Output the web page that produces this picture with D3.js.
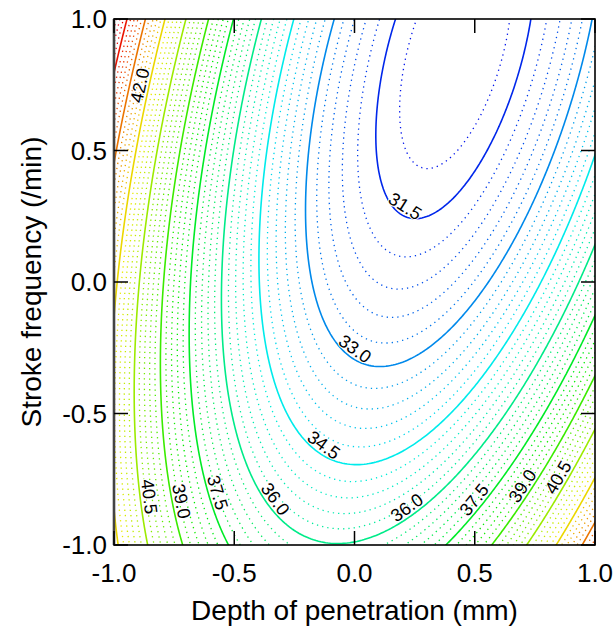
<!DOCTYPE html>
<html>
<head>
<meta charset="utf-8">
<script src="https://cdn.jsdelivr.net/npm/d3@7"></script>
<style>
  body { margin: 0; background: #fff; }
  text { font-family: "Liberation Sans", Arial, sans-serif; }
</style>
</head>
<body>
<svg id="chart"></svg>
<script>
const width = 616;
const height = 634;

// quadratic response surface: b0, bx, by, bxx, byy, bxy
const coefficients = [32.29, -2.736, -1.833, 7.2, 1.944, -3.773];
const labeledLevels = [31.5, 33.0, 34.5, 36.0, 37.5, 39.0, 40.5, 42.0, 43.5, 45.0];
const dottedLevels = [31.2, 31.8, 32.1, 32.4, 32.7, 33.3, 33.6, 33.9, 34.2, 34.8,
    35.1, 35.4, 35.7, 36.3, 36.6, 36.9, 37.2, 37.8, 38.1, 38.4, 38.7, 39.3, 39.6,
    39.9, 40.2, 40.8, 41.1, 41.4, 41.7, 42.3, 42.6, 42.9, 43.2, 43.8, 44.1, 44.4,
    44.7, 45.3, 45.6, 45.9];
const xTicks = [-1.0, -0.5, 0.0, 0.5, 1.0];
const yTicks = [-1.0, -0.5, 0.0, 0.5, 1.0];
const xTitle = 'Depth of penetration (mm)';
const yTitle = 'Stroke frequency (/min)';

// where the contour labels sit (level, approx data point on the line)
const labelSpots = [
    [42.0, -0.86, 0.74],
    [31.5, 0.20, 0.27],
    [33.0, -0.01, -0.27],
    [34.5, -0.15, -0.64],
    [36.0, -0.34, -0.83],
    [36.0, 0.24, -0.89],
    [37.5, -0.58, -0.80],
    [39.0, -0.725, -0.83],
    [40.5, -0.867, -0.82],
    [37.5, 0.52, -0.85],
    [39.0, 0.717, -0.79],
    [40.5, 0.863, -0.745]
];

const plot = { left: 114, right: 595, top: 19, bottom: 545 };

const svg = d3.select('#chart').attr('width', width).attr('height', height);

const x = d3.scaleLinear().domain([-1, 1]).range([plot.left, plot.right]);
const y = d3.scaleLinear().domain([-1, 1]).range([plot.bottom, plot.top]);

const hue = d3.scaleLinear().domain([31.5, 45.0]).range([230, 5]);
const levelColor = v => d3.hsl(Math.max(-8, hue(v)), 1, 0.46).formatHex();

function surface(a, b) {
    const [b0, b1, b2, b11, b22, b12] = coefficients;
    return b0 + b1 * a + b2 * b + b11 * a * a + b22 * b * b + b12 * a * b;
}

// sample the surface on a grid a bit larger than the plot, then clip
const step = 0.01, lo = -1.05, n = 211;
const values = new Float64Array(n * n);
for (let j = 0; j < n; j++) {
    for (let i = 0; i < n; i++) {
        values[j * n + i] = surface(lo + i * step, -lo - j * step);
    }
}
const gx = g => x(lo + (g - 0.5) * step);
const gy = g => y(-lo - (g - 0.5) * step);

const path = d3.geoPath(d3.geoTransform({
    point: function (px, py) { this.stream.point(gx(px), gy(py)); }
}));

const allLevels = labeledLevels.concat(dottedLevels).sort((a, b) => a - b);
const contours = d3.contours().size([n, n]).thresholds(allLevels)(values);

svg.append('defs').append('clipPath').attr('id', 'plotClip')
    .append('rect')
    .attr('x', plot.left).attr('y', plot.top)
    .attr('width', plot.right - plot.left).attr('height', plot.bottom - plot.top);

const lines = svg.append('g').attr('clip-path', 'url(#plotClip)');

lines.selectAll('path')
    .data(contours)
    .enter().append('path')
    .attr('d', path)
    .attr('fill', 'none')
    .attr('stroke', d => levelColor(d.value))
    .attr('stroke-width', d => labeledLevels.includes(d.value) ? 1.6 : 1.3)
    .attr('stroke-dasharray', d => labeledLevels.includes(d.value) ? null : '1.3,4')
    .attr('stroke-linecap', 'butt');

const fmt = d => d.toFixed(1);

// contour labels: baseline on the line, turned along it
const labels = svg.append('g');
labelSpots.forEach(([level, lx, ly]) => {
    const c = contours.find(d => Math.abs(d.value - level) < 1e-6);
    if (!c) return;
    const tx = x(lx), ty = y(ly);
    let best = null, bestD = Infinity;
    c.coordinates.forEach(poly => poly.forEach(ring => {
        ring.forEach((p, k) => {
            const px = gx(p[0]), py = gy(p[1]);
            const d = (px - tx) ** 2 + (py - ty) ** 2;
            if (d < bestD) { bestD = d; best = { ring, k, px, py }; }
        });
    }));
    if (!best) return;
    const r = best.ring, m = r.length;
    const p0 = r[(best.k - 4 + m) % m], p1 = r[(best.k + 4) % m];
    let ang = Math.atan2(gy(p1[1]) - gy(p0[1]), gx(p1[0]) - gx(p0[0])) * 180 / Math.PI;
    if (ang > 90) ang -= 180;
    if (ang <= -90) ang += 180;
    labels.append('text')
        .attr('transform', `translate(${best.px},${best.py}) rotate(${ang})`)
        .attr('y', -3)
        .attr('text-anchor', 'middle')
        .attr('font-size', 18)
        .attr('fill', '#000')
        .attr('stroke', '#fff')
        .attr('stroke-width', 2)
        .attr('paint-order', 'stroke')
        .text(fmt(level));
});

// frame
const frame = svg.append('g');
frame.append('rect')
    .attr('x', plot.left).attr('y', plot.top)
    .attr('width', plot.right - plot.left).attr('height', plot.bottom - plot.top)
    .attr('fill', 'none').attr('stroke', '#000').attr('stroke-width', 1.6);
frame.append('line')
    .attr('x1', plot.left).attr('x2', plot.left)
    .attr('y1', plot.top).attr('y2', plot.bottom)
    .attr('stroke', '#444').attr('stroke-width', 2.6);

// inward ticks on all four sides
const tickLen = 14;
xTicks.forEach(t => {
    frame.append('line').attr('x1', x(t)).attr('x2', x(t))
        .attr('y1', plot.bottom).attr('y2', plot.bottom - tickLen)
        .attr('stroke', '#000').attr('stroke-width', 1.5);
    frame.append('line').attr('x1', x(t)).attr('x2', x(t))
        .attr('y1', plot.top).attr('y2', plot.top + tickLen)
        .attr('stroke', '#000').attr('stroke-width', 1.5);
});
yTicks.forEach(t => {
    frame.append('line').attr('x1', plot.left).attr('x2', plot.left + tickLen)
        .attr('y1', y(t)).attr('y2', y(t))
        .attr('stroke', '#000').attr('stroke-width', 1.5);
    frame.append('line').attr('x1', plot.right).attr('x2', plot.right - tickLen)
        .attr('y1', y(t)).attr('y2', y(t))
        .attr('stroke', '#000').attr('stroke-width', 1.5);
});

svg.append('g').selectAll('text').data(xTicks).enter().append('text')
    .attr('x', d => x(d)).attr('y', 582)
    .attr('text-anchor', 'middle').attr('font-size', 26).attr('fill', '#000')
    .text(d => fmt(d));
svg.append('g').selectAll('text').data(yTicks).enter().append('text')
    .attr('x', 107).attr('y', d => y(d) + 9)
    .attr('text-anchor', 'end').attr('font-size', 26).attr('fill', '#000')
    .text(d => fmt(d));

svg.append('text')
    .attr('x', (plot.left + plot.right) / 2).attr('y', 620)
    .attr('text-anchor', 'middle').attr('font-size', 28).attr('fill', '#000')
    .text(xTitle);
svg.append('text')
    .attr('transform', `translate(41,${(plot.top + plot.bottom) / 2}) rotate(-90)`)
    .attr('text-anchor', 'middle').attr('font-size', 28).attr('fill', '#000')
    .text(yTitle);
</script>
</body>
</html>
